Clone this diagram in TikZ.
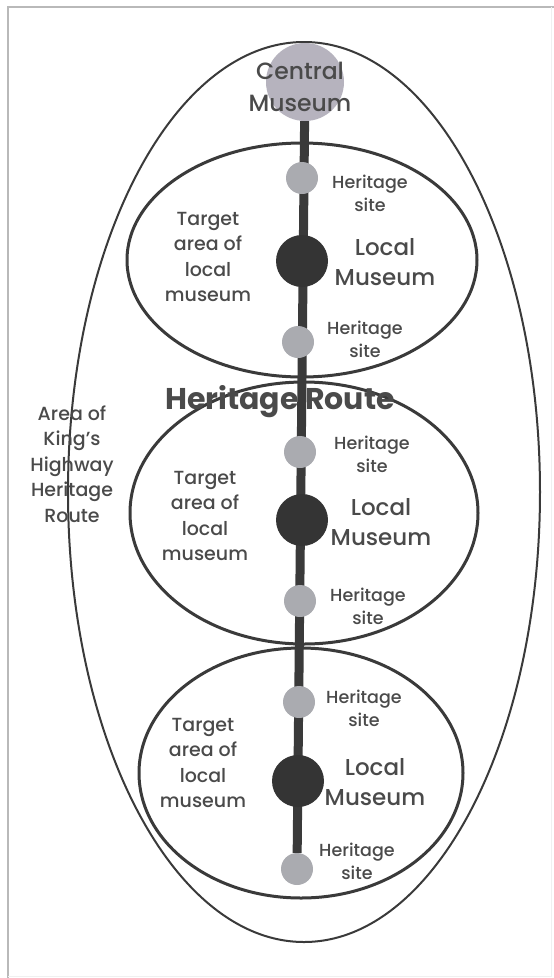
\documentclass[tikz,border=0pt]{standalone}
\usepackage{fontspec}
\setmainfont{Poppins}[UprightFont={* Medium},BoldFont={* Bold}]
\usetikzlibrary{backgrounds}
\definecolor{inkgray}{HTML}{3A3A3A}
\definecolor{txtgray}{HTML}{4A4A4A}
\definecolor{sitegray}{HTML}{AAABB0}
\definecolor{centralgray}{HTML}{B6B3BE}
\begin{document}
\begin{tikzpicture}[x=1pt,y=-1pt,
  site/.style={circle,fill=sitegray,minimum size=32pt,inner sep=0pt},
  localmus/.style={circle,fill=inkgray!90!black,minimum size=52pt,inner sep=0pt},
  sitelbl/.style={txtgray,font=\fontsize{17.5}{23}\selectfont,align=center},
  muslbl/.style={txtgray,font=\fontsize{23}{30}\selectfont,align=center},
  arealbl/.style={txtgray,font=\fontsize{19}{25.5}\selectfont,align=center},
  zone/.style={inkgray,line width=3pt}]
\useasboundingbox (0,0) rectangle (554,978);
% frame
\draw[gray!55,line width=1.5pt] (8,978) -- (8,7) -- (554,7);
\draw[gray!12,line width=1pt] (551,7) -- (551,976) -- (8,976);
% route area and target areas
\draw[inkgray,line width=2pt] (304,492) ellipse (236 and 450);
\draw[zone] (302,260) ellipse (175 and 117);
\draw[zone] (304,513) ellipse (174 and 131);
\draw[zone] (301,773) ellipse (162 and 125);
% museums and sites
\node[circle,fill=centralgray,minimum size=78pt,inner sep=0pt] (cm) at (305,82) {};
\node[site] (hs1) at (302,178) {};
\node[localmus] (lm1) at (302,261) {};
\node[site] (hs2) at (298,342) {};
\node[site] (hs3) at (300,452) {};
\node[localmus] (lm2) at (302,520) {};
\node[site] (hs4) at (300,601) {};
\node[site] (hs5) at (299,702) {};
\node[localmus] (lm3) at (298,781) {};
\node[site] (hs6) at (297,869) {};
\begin{scope}[on background layer]
\draw[inkgray,line width=9pt] (cm) -- (hs6);
\end{scope}
% labels
\node[txtgray,font=\fontsize{23.5}{32}\selectfont,align=center] (cmlbl) at (300,87) {Central\\Museum};
\node[txtgray,font=\bfseries\fontsize{30}{34}\selectfont] (route) at (280,402) {Heritage Route};
\node[arealbl] (king) at (72,464) {Area of\\King’s\\Highway\\Heritage\\Route};
\node[sitelbl] (hl1) at (370,193) {Heritage\\site};
\node[sitelbl] (hl2) at (365,339) {Heritage\\site};
\node[sitelbl] (hl3) at (372,454) {Heritage\\site};
\node[sitelbl] (hl4) at (368,606) {Heritage\\site};
\node[sitelbl] (hl5) at (364,708) {Heritage\\site};
\node[sitelbl] (hl6) at (357,861) {Heritage\\site};
\node[muslbl] (ml1) at (385,262) {Local\\Museum};
\node[muslbl] (ml2) at (381,522) {Local\\Museum};
\node[muslbl] (ml3) at (375,782) {Local\\Museum};
\node[arealbl] (ta1) at (208,257) {Target\\area of\\local\\museum};
\node[arealbl] (ta2) at (205,516) {Target\\area of\\local\\museum};
\node[arealbl] (ta3) at (203,763) {Target\\area of\\local\\museum};
\end{tikzpicture}
\end{document}
